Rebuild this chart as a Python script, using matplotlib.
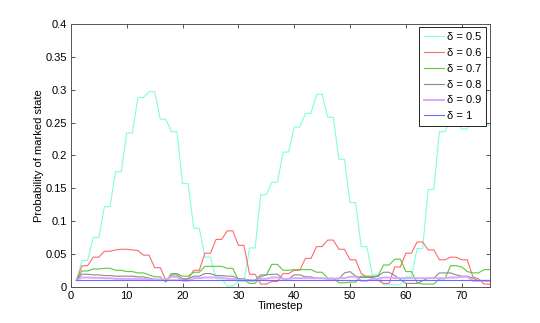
import matplotlib
matplotlib.use("Agg")
import matplotlib.pyplot as plt

plt.rcParams['font.family'] = ['Liberation Sans', 'DejaVu Sans']

# timesteps 1..75
steps = list(range(1, 76))

deltas = ["0.5", "0.6", "0.7", "0.8", "0.9", "1"]

# probability of marked state
p_05 = [0.010, 0.040, 0.040, 0.075, 0.075, 0.122, 0.122, 0.175, 0.175, 0.234,
        0.234, 0.288, 0.288, 0.297, 0.297, 0.255, 0.255, 0.236, 0.236, 0.157,
        0.157, 0.089, 0.089, 0.045, 0.045, 0.012, 0.012, 0.001, 0.001, 0.008,
        0.008, 0.059, 0.059, 0.140, 0.140, 0.159, 0.159, 0.205, 0.205, 0.243,
        0.243, 0.264, 0.264, 0.293, 0.293, 0.258, 0.258, 0.194, 0.194, 0.128,
        0.128, 0.061, 0.061, 0.018, 0.018, 0.003, 0.003, 0.003, 0.003, 0.015,
        0.015, 0.058, 0.058, 0.148, 0.148, 0.236, 0.236, 0.255, 0.255, 0.240,
        0.240, 0.260, 0.260, 0.246, 0.246]

p_06 = [0.010, 0.032, 0.032, 0.045, 0.045, 0.054, 0.054, 0.056, 0.057, 0.057,
        0.056, 0.055, 0.048, 0.048, 0.029, 0.029, 0.010, 0.010, 0.010, 0.010,
        0.012, 0.025, 0.025, 0.051, 0.051, 0.072, 0.072, 0.085, 0.085, 0.063,
        0.063, 0.019, 0.019, 0.004, 0.004, 0.008, 0.008, 0.020, 0.020, 0.025,
        0.025, 0.043, 0.043, 0.061, 0.061, 0.071, 0.071, 0.057, 0.057, 0.041,
        0.041, 0.020, 0.015, 0.015, 0.010, 0.005, 0.005, 0.030, 0.030, 0.051,
        0.051, 0.068, 0.068, 0.056, 0.056, 0.041, 0.041, 0.045, 0.045, 0.041,
        0.041, 0.015, 0.012, 0.004, 0.004]

p_07 = [0.010, 0.024, 0.024, 0.027, 0.027, 0.028, 0.028, 0.025, 0.025, 0.023,
        0.023, 0.021, 0.021, 0.018, 0.015, 0.015, 0.007, 0.020, 0.020, 0.016,
        0.016, 0.022, 0.022, 0.031, 0.031, 0.031, 0.031, 0.028, 0.028, 0.010,
        0.010, 0.005, 0.005, 0.015, 0.018, 0.034, 0.034, 0.025, 0.025, 0.026,
        0.026, 0.026, 0.026, 0.022, 0.022, 0.013, 0.013, 0.006, 0.006, 0.007,
        0.007, 0.016, 0.016, 0.016, 0.016, 0.033, 0.033, 0.042, 0.042, 0.023,
        0.023, 0.006, 0.004, 0.004, 0.004, 0.012, 0.012, 0.032, 0.032, 0.030,
        0.023, 0.021, 0.021, 0.026, 0.026]

p_08 = [0.010, 0.019, 0.019, 0.018, 0.018, 0.017, 0.017, 0.016, 0.016, 0.016,
        0.016, 0.015, 0.015, 0.013, 0.011, 0.011, 0.009, 0.018, 0.018, 0.012,
        0.012, 0.016, 0.016, 0.020, 0.020, 0.017, 0.017, 0.016, 0.016, 0.012,
        0.012, 0.010, 0.010, 0.018, 0.018, 0.019, 0.019, 0.012, 0.012, 0.018,
        0.018, 0.015, 0.015, 0.013, 0.013, 0.012, 0.012, 0.012, 0.021, 0.023,
        0.016, 0.014, 0.014, 0.014, 0.016, 0.022, 0.022, 0.017, 0.011, 0.005,
        0.005, 0.005, 0.009, 0.013, 0.013, 0.021, 0.021, 0.021, 0.018, 0.016,
        0.016, 0.013, 0.009, 0.009, 0.009]

p_09 = [0.010, 0.014, 0.014, 0.0135, 0.0135, 0.013, 0.013, 0.012, 0.012, 0.012,
        0.012, 0.012, 0.012, 0.011, 0.011, 0.011, 0.011, 0.015, 0.015, 0.009,
        0.009, 0.013, 0.013, 0.014, 0.014, 0.014, 0.014, 0.012, 0.012, 0.010,
        0.010, 0.009, 0.009, 0.012, 0.012, 0.014, 0.014, 0.012, 0.012, 0.013,
        0.013, 0.013, 0.013, 0.013, 0.013, 0.012, 0.012, 0.013, 0.013, 0.015,
        0.015, 0.009, 0.009, 0.012, 0.012, 0.014, 0.014, 0.013, 0.013, 0.013,
        0.013, 0.013, 0.013, 0.013, 0.013, 0.013, 0.013, 0.014, 0.014, 0.015,
        0.015, 0.009, 0.009, 0.009, 0.009]

p_10 = [0.01, 0.01, 0.01, 0.01, 0.01, 0.01, 0.01, 0.01, 0.01, 0.01, 0.01, 0.01, 0.01, 0.01, 0.01,
        0.01, 0.01, 0.01, 0.01, 0.01, 0.01, 0.01, 0.01, 0.01, 0.01, 0.01, 0.01, 0.01, 0.01, 0.01,
        0.01, 0.01, 0.01, 0.01, 0.01, 0.01, 0.01, 0.01, 0.01, 0.01, 0.01, 0.01, 0.01, 0.01, 0.01,
        0.01, 0.01, 0.01, 0.01, 0.01, 0.01, 0.01, 0.01, 0.01, 0.01, 0.01, 0.01, 0.01, 0.01, 0.01,
        0.01, 0.01, 0.01, 0.01, 0.01, 0.01, 0.01, 0.01, 0.01, 0.01, 0.01, 0.01, 0.01, 0.01, 0.01]

series = [p_05, p_06, p_07, p_08, p_09, p_10]
colors = ["#80ffd8", "#ff6a6a", "#5cc83c", "#8c8c8c", "#dba6ff", "#6b6bff"]
widths = [0.8, 0.8, 0.8, 0.8, 1.4, 0.8]

fig = plt.figure(figsize=(5.4, 3.23), dpi=100)
ax = fig.add_axes([0.1313, 0.1124, 0.7754, 0.8133])

for d, vals, c, w in zip(deltas, series, colors, widths):
    ax.plot(steps, vals, color=c, lw=w, label="δ = " + d)

ax.set_xlim(0, 75)
ax.set_ylim(0, 0.4)
ax.set_xticks(range(0, 75, 10))
ax.set_yticks([0, 0.05, 0.1, 0.15, 0.2, 0.25, 0.3, 0.35, 0.4])
ax.set_yticklabels(["0", "0.05", "0.1", "0.15", "0.2", "0.25", "0.3", "0.35", "0.4"])
ax.tick_params(direction="in", top=True, right=True, length=3, width=0.6,
               labelsize=8, pad=3, color="#333333")
for s in ax.spines.values():
    s.set_linewidth(0.7)
    s.set_color("#555555")

ax.set_xlabel("Timestep", fontsize=8, labelpad=0)
ax.set_ylabel("Probability of marked state", fontsize=8, labelpad=1)

leg = ax.legend(loc="upper right", fontsize=8, fancybox=False, edgecolor="black",
                framealpha=1, borderaxespad=0.3, handlelength=1.8,
                handletextpad=0.3, labelspacing=0.52, borderpad=0.45)
leg.get_frame().set_linewidth(0.6)

fig.savefig("out.png", dpi=100)
